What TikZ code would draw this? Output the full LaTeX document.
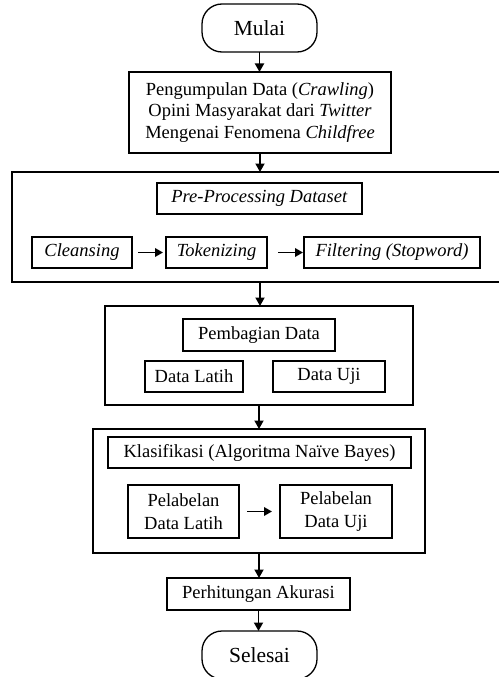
\documentclass[tikz,border=0pt]{standalone}
\usepackage{fontspec}
\setmainfont{Liberation Serif}
\usetikzlibrary{arrows.meta}
\begin{document}
\begin{tikzpicture}[x=1pt,y=-1pt,
  every node/.style={inner sep=0pt, outer sep=0pt, line width=1.3pt},
  txt/.style={font=\fontsize{18.5}{21.5}\selectfont, align=center},
  box/.style={draw, txt},
  outer/.style={draw},
  term/.style={draw, rounded corners=20pt, font=\fontsize{21.5}{24}\selectfont},
  flow/.style={line width=1.8pt, -{Triangle[length=8.5pt,width=9pt]}},
  side/.style={line width=1.8pt, -{Triangle[length=8pt,width=8.5pt]}}
]
\useasboundingbox (0,0) rectangle (498,677);
\node[term, minimum width=115pt, minimum height=48pt] (start) at (259.5,28) {Mulai};
\node[box, minimum width=262pt, minimum height=81pt] (b1) at (260,112.5)
  {Pengumpulan Data (\textit{Crawling})\\Opini Masyarakat dari \textit{Twitter}\\Mengenai Fenomena \textit{Childfree}};
\node[outer, minimum width=488pt, minimum height=110pt] (pre) at (256,227) {};
\node[box, minimum width=205pt, minimum height=31pt] (ppd) at (259.5,198.5) {\textit{Pre-Processing Dataset}};
\node[box, minimum width=100pt, minimum height=31pt] (cl) at (82,252.5) {\textit{Cleansing}};
\node[box, minimum width=101pt, minimum height=31pt] (tk) at (216.5,252.5) {\textit{Tokenizing}};
\node[box, minimum width=176pt, minimum height=31pt] (ft) at (392,252.5) {\textit{Filtering (Stopword)}};
\node[outer, minimum width=308pt, minimum height=99pt] (pb) at (259,355.5) {};
\node[box, minimum width=152pt, minimum height=32pt] (pbd) at (259,335) {Pembagian Data};
\node[box, minimum width=98pt, minimum height=31pt] (dl) at (194,376.5) {Data Latih};
\node[box, minimum width=112pt, minimum height=31pt] (du) at (329,376.5) {Data Uji};
\node[outer, minimum width=332pt, minimum height=124pt] (kl) at (259,491) {};
\node[box, minimum width=303pt, minimum height=31pt] (kli) at (259.5,452.5) {Klasifikasi (Algoritma Naïve Bayes)};
\node[box, minimum width=111pt, minimum height=53pt, font=\fontsize{18.5}{23}\selectfont] (pl1) at (183.5,511.5) {Pelabelan\\Data Latih};
\node[box, minimum width=112pt, minimum height=53pt, font=\fontsize{18.5}{23}\selectfont] (pl2) at (336,511.5) {Pelabelan\\Data Uji};
\node[box, minimum width=183pt, minimum height=32pt] (ph) at (258.5,594) {Perhitungan Akurasi};
\node[term, minimum width=115pt, minimum height=48pt] (end) at (259.5,655) {Selesai};

\draw[flow] (start.south) -- (start.south |- b1.north);
\draw[flow] (b1.south) -- (b1.south |- pre.north);
\draw[flow] (b1.south |- pre.south) -- (b1.south |- pb.north);
\draw[flow] (pb.south) -- (pb.south |- kl.north);
\draw[flow] (kl.south) -- (kl.south |- ph.north);
\draw[flow] (ph.south) -- (ph.south |- end.north);
\draw[side, shorten <=6pt, shorten >=3pt] (cl.east) -- (tk.west);
\draw[side, shorten <=11pt, shorten >=1pt] (tk.east) -- (ft.west);
\draw[side, shorten <=8pt, shorten >=8pt] (pl1.east) -- (pl2.west);
\end{tikzpicture}
\end{document}
